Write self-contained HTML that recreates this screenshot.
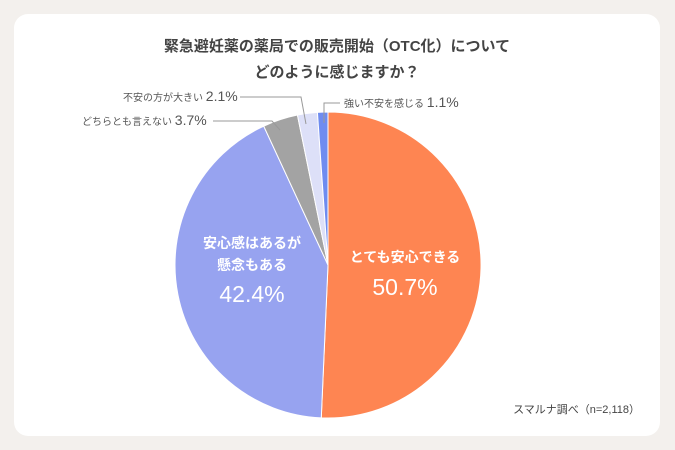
<!DOCTYPE html>
<html><head><meta charset="utf-8"><style>
body{margin:0;width:675px;height:450px;background:#f3f0ed;overflow:hidden;font-family:"Liberation Sans","Noto Sans CJK JP",sans-serif}
.card{position:absolute;left:14px;top:14px;width:646px;height:422px;background:#fff;border-radius:14px}
</style></head><body>
<div class="card"></div>
<svg width="675" height="450" style="position:absolute;left:0;top:0" font-family="Liberation Sans, Noto Sans CJK JP, sans-serif">
<text x="337" y="51" text-anchor="middle" font-size="15" font-weight="bold" fill="#444">緊急避妊薬の薬局での販売開始（OTC化）について</text>
<text x="337" y="77" text-anchor="middle" font-size="15" font-weight="bold" fill="#444">どのように感じますか？</text>
<g stroke="#fff" stroke-width="1">
<path d="M328,265 L328,112 A153,153 0 1 1 321.27,417.85 Z" fill="#fe8552"/>
<path d="M328,265 L321.27,417.85 A153,153 0 0 1 263.74,126.15 Z" fill="#97a3f0"/>
<path d="M328,265 L263.74,126.15 A153,153 0 0 1 297.44,115.07 Z" fill="#a3a3a3"/>
<path d="M328,265 L297.44,115.07 A153,153 0 0 1 317.43,112.37 Z" fill="#dde0f8"/>
<path d="M328,265 L317.43,112.37 A153,153 0 0 1 328,112 Z" fill="#6f8cf0"/>
</g>
<g stroke="#999" stroke-width="1" fill="none">
<polyline points="324,123 324,103 340,103"/>
<polyline points="306,124 301,97 240,97"/>
<polyline points="280,130 272,121 213,121"/>
</g>
<g fill="#555" font-size="10">
<text x="344" y="107">強い不安を感じる <tspan font-size="14">1.1%</tspan></text>
<text x="123" y="101">不安の方が大きい <tspan font-size="14">2.1%</tspan></text>
<text x="82" y="125">どちらとも言えない <tspan font-size="14">3.7%</tspan></text>
</g>
<g fill="#fff" text-anchor="middle">
<text x="405" y="262" font-size="14" font-weight="bold">とても安心できる</text>
<text x="405" y="295" font-size="23">50.7%</text>
<text x="252" y="248" font-size="14" font-weight="bold">安心感はあるが</text>
<text x="252" y="270" font-size="14" font-weight="bold">懸念もある</text>
<text x="252" y="302" font-size="23">42.4%</text>
</g>
<text x="640" y="413" text-anchor="end" font-size="11" fill="#444">スマルナ調べ（n=2,118）</text>
</svg>
</body></html>
